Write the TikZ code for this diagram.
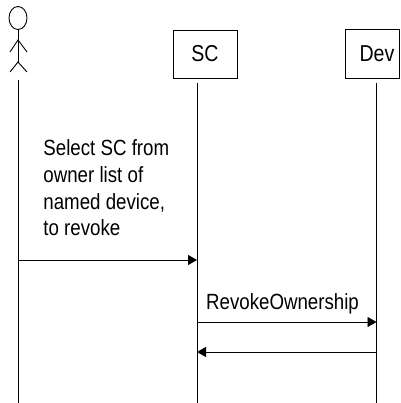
\documentclass[tikz,border=0pt]{standalone}
\usepackage{fontspec}
\setmainfont{Liberation Sans}[FakeStretch=0.85]
\usetikzlibrary{arrows.meta,shapes.geometric}
\begin{document}
\begin{tikzpicture}[x=1pt,y=-1pt,line width=0.9pt,
  objbox/.style={draw,inner sep=0pt,font=\fontsize{23}{26}\selectfont},
  msg/.style={-{Triangle[length=9pt,width=10pt]}},
  lbl/.style={inner sep=0pt,font=\fontsize{22}{26.7}\selectfont}]
\useasboundingbox (0,0) rectangle (400,403);
% actor
\node[draw,ellipse,minimum width=18pt,minimum height=23pt,inner sep=0pt] (head) at (18,18) {};
\coordinate (neck) at (18,40);
\coordinate (hip) at (18,62);
\draw (head.south) -- (hip);
\draw (10,52) -- (neck) -- (27,52);
\draw (10,72) -- (hip) -- (27,72);
\coordinate (acTop) at (18,80);
\coordinate (acBot) at (18,403);
\draw (acTop) -- (acBot);
% objects
\node[objbox,minimum width=64pt,minimum height=48pt] (sc) at (205,54) {SC};
\node[objbox,minimum width=54pt,minimum height=49pt,
  execute at begin node={\hspace*{10pt}}] (dev) at (372,53.5) {Dev};
\coordinate (scTop) at (197,83);
\coordinate (scBot) at (197,403);
\coordinate (devTop) at (376.5,83);
\coordinate (devBot) at (376.5,403);
\draw (scTop) -- (scBot);
\draw (devTop) -- (devBot);
% messages
\coordinate (m1a) at (18,260);
\coordinate (m1b) at (197,260);
\draw[msg] (m1a) -- (m1b);
\node[lbl,anchor=north west,align=left] (t1) at (43,139.5) {Select SC from\\owner list of\\named device,\\to revoke};
\coordinate (m2a) at (197,322);
\coordinate (m2b) at (376.5,322);
\draw[msg] (m2a) -- (m2b);
\node[lbl,anchor=base] (t2) at (282.5,309) {RevokeOwnership};
\coordinate (m3a) at (376.5,352);
\coordinate (m3b) at (197,352);
\draw[msg] (m3a) -- (m3b);
\end{tikzpicture}
\end{document}
